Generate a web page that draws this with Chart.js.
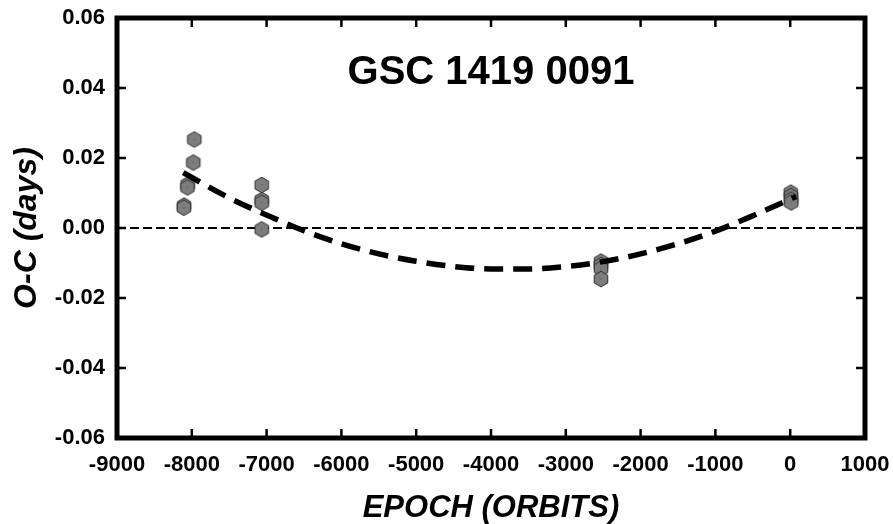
<!DOCTYPE html>
<html>
<head>
<meta charset="utf-8">
<script src="https://cdn.jsdelivr.net/npm/chart.js@4.4.1/dist/chart.umd.min.js"></script>
<style>
  html, body { margin: 0; padding: 0; background: #ffffff; }
  #wrap { width: 893px; height: 524px; }
</style>
</head>
<body>
<div id="wrap"><canvas id="c" width="893" height="524"></canvas></div>
<script>
// ---- data ----
const chartTitle = 'GSC 1419 0091';
const xAxisTitle = 'EPOCH (ORBITS)';
const yAxisTitle = 'O-C (days)';

const xTickValues = [-9000, -8000, -7000, -6000, -5000, -4000, -3000, -2000, -1000, 0, 1000];
const xTickLabels = ['-9000', '-8000', '-7000', '-6000', '-5000', '-4000', '-3000', '-2000', '-1000', '0', '1000'];
const yTickValues = [-0.06, -0.04, -0.02, 0.00, 0.02, 0.04, 0.06];
const yTickLabels = ['-0.06', '-0.04', '-0.02', '0.00', '0.02', '0.04', '0.06'];

// observed minima
const obsEpoch = [-7967, -7980, -8055, -8058, -8104, -8106, -7065, -7065, -7065, -7065, -2530, -2530, -2530, -2530, 8, 10, 12, 14];
const obsOC    = [0.0253, 0.0187, 0.0124, 0.0116, 0.0064, 0.0058, 0.0123, 0.0080, 0.0072, -0.0004, -0.0096, -0.0106, -0.0116, -0.0146, 0.0101, 0.0091, 0.0081, 0.0073];

// fitted curve, values
const fitEpoch = [-8114, -7500, -7000, -6500, -6000, -5500, -5000, -4500, -4000, -3500, -3000, -2500, -2000, -1500, -1000, -500, 80];
const fitOC    = [0.0158, 0.0086, 0.0037, -0.0008, -0.0045, -0.0074, -0.0095, -0.0110, -0.0117, -0.0117, -0.0110, -0.0096, -0.0074, -0.0045, -0.0009, 0.0035, 0.0090];

// zero reference line
const zeroEpoch = [-9000, 1000];
const zeroOC = [0, 0];

// ---- helpers ----
function pairs(xs, ys) { return xs.map((x, i) => ({ x: x, y: ys[i] })); }

function hexCanvas() {
  const c = document.createElement('canvas');
  c.width = 18; c.height = 18;
  const g = c.getContext('2d');
  g.beginPath();
  for (let i = 0; i < 6; i++) {
    const a = (-90 + 60 * i) * Math.PI / 180;
    const px = 9 + 7.8 * Math.cos(a), py = 9 + 7.8 * Math.sin(a);
    if (i === 0) g.moveTo(px, py); else g.lineTo(px, py);
  }
  g.closePath();
  g.fillStyle = '#7d7d7d';
  g.fill();
  g.lineWidth = 1;
  g.strokeStyle = '#2e2e2e';
  g.stroke();
  g.fillStyle = '#4a4a4a';
  g.fillRect(8.5, 8.5, 1, 1);
  return c;
}

const framePlugin = {
  id: 'frame',
  afterDatasetsDraw(chart) {
    const ctx = chart.ctx;
    const a = chart.chartArea;
    const xs = chart.scales.x, ys = chart.scales.y;
    ctx.save();
    ctx.strokeStyle = '#000';
    // inward ticks
    ctx.lineWidth = 2.5;
    const tl = 9;
    ctx.beginPath();
    xTickValues.forEach(v => {
      const px = xs.getPixelForValue(v);
      ctx.moveTo(px, a.bottom); ctx.lineTo(px, a.bottom - tl);
      ctx.moveTo(px, a.top); ctx.lineTo(px, a.top + tl);
    });
    yTickValues.forEach(v => {
      const py = ys.getPixelForValue(v);
      ctx.moveTo(a.left, py); ctx.lineTo(a.left + tl, py);
      ctx.moveTo(a.right, py); ctx.lineTo(a.right - tl, py);
    });
    ctx.stroke();
    // frame
    ctx.lineWidth = 5;
    ctx.lineJoin = 'miter';
    ctx.strokeRect(a.left, a.top, a.right - a.left, a.bottom - a.top);
    // title inside plot
    ctx.fillStyle = '#000';
    ctx.font = 'bold 40px "Liberation Sans", Arial, sans-serif';
    ctx.textAlign = 'center';
    ctx.textBaseline = 'middle';
    ctx.fillText(chartTitle, xs.getPixelForValue(-4000), ys.getPixelForValue(0.0444));
    ctx.restore();
  }
};

const hex = hexCanvas();

new Chart(document.getElementById('c'), {
  type: 'scatter',
  data: {
    datasets: [
      {
        label: 'zero',
        data: pairs(zeroEpoch, zeroOC),
        showLine: true,
        borderColor: '#000',
        borderWidth: 2,
        borderDash: [9, 4],
        pointRadius: 0,
        fill: false,
        order: 3
      },
      {
        label: 'observed',
        data: pairs(obsEpoch, obsOC),
        pointStyle: hex,
        pointRadius: 8,
        showLine: false,
        order: 2
      },
      {
        label: 'fit',
        data: pairs(fitEpoch, fitOC),
        showLine: true,
        borderColor: '#000',
        borderWidth: 5.5,
        borderDash: [19, 10],
        borderCapStyle: 'butt',
        cubicInterpolationMode: 'monotone',
        pointRadius: 0,
        fill: false,
        order: 1
      }
    ]
  },
  options: {
    responsive: false,
    animation: false,
    devicePixelRatio: 1,
    layout: { padding: { top: 18, right: 28, left: 0, bottom: 0 } },
    plugins: { legend: { display: false }, tooltip: { enabled: false } },
    scales: {
      x: {
        type: 'linear',
        min: -9000, max: 1000,
        afterBuildTicks: s => { s.ticks = xTickValues.map(v => ({ value: v })); },
        afterFit: s => { s.height = 86; s.paddingLeft = 0; s.paddingRight = 0; },
        grid: { display: false, drawTicks: false },
        border: { display: false },
        ticks: {
          color: '#000',
          padding: 14,
          maxRotation: 0,
          autoSkip: false,
          font: { family: '"Liberation Sans"', size: 22, weight: 'bold' },
          callback: v => { const i = xTickValues.indexOf(v); return i >= 0 ? xTickLabels[i] : ''; }
        },
        title: {
          display: true,
          text: xAxisTitle,
          color: '#000',
          padding: { top: 0, bottom: 0 },
          font: { family: '"Liberation Sans"', size: 31, weight: 'bold', style: 'italic', lineHeight: 1 }
        }
      },
      y: {
        type: 'linear',
        min: -0.06, max: 0.06,
        afterBuildTicks: s => { s.ticks = yTickValues.map(v => ({ value: v })); },
        afterFit: s => { s.width = 117; s.paddingTop = 0; s.paddingBottom = 0; },
        grid: { display: false, drawTicks: false },
        border: { display: false },
        ticks: {
          color: '#000',
          padding: 12,
          autoSkip: false,
          font: { family: '"Liberation Sans"', size: 22, weight: 'bold' },
          callback: v => { const i = yTickValues.findIndex(t => Math.abs(t - v) < 1e-9); return i >= 0 ? yTickLabels[i] : ''; }
        },
        title: {
          display: true,
          text: yAxisTitle,
          color: '#000',
          padding: { top: 11, bottom: 0 },
          font: { family: '"Liberation Sans"', size: 32, weight: 'bold', style: 'italic', lineHeight: 1 }
        }
      }
    }
  },
  plugins: [framePlugin]
});
</script>
</body>
</html>
